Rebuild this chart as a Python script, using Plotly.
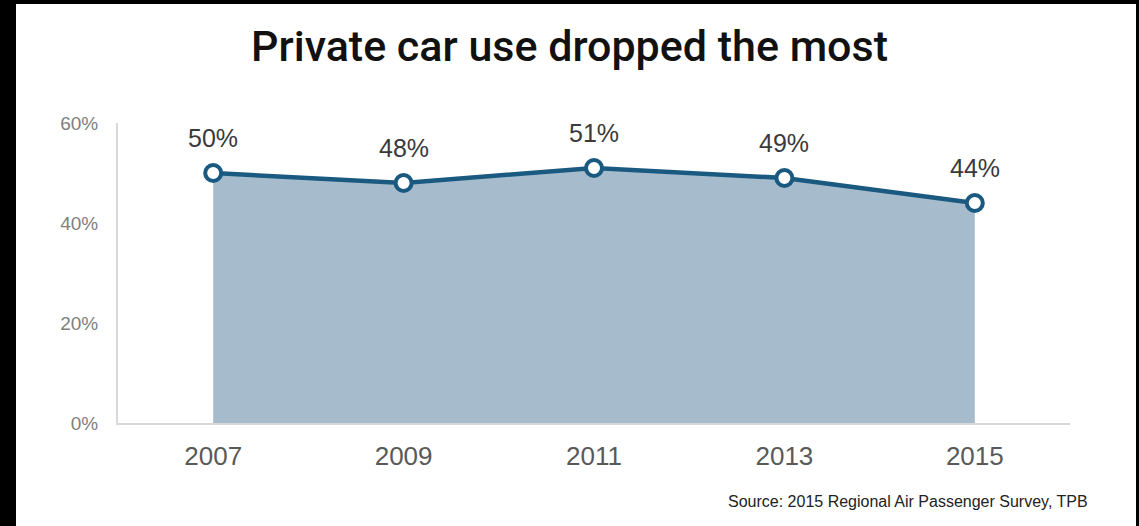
import plotly.graph_objects as go

years = [2007, 2009, 2011, 2013, 2015]
share = [50, 48, 51, 49, 44]
labels = [f"{v}%" for v in share]
y_ticks = [0, 20, 40, 60]
y_tick_text = ["0%", "20%", "40%", "60%"]

W, H = 1139, 526
ml, mr, mt, mb = 118, 69, 123, 103
pw, ph = W - ml - mr, H - mt - mb

def px_x(p):
    return (p - ml) / pw

def px_y(p):
    return (H - mb - p) / ph

fig = go.Figure()
fig.add_trace(go.Scatter(
    x=years, y=share, mode="lines+markers",
    fill="tozeroy", fillcolor="#a6bccd",
    line=dict(color="#1b5a80", width=4.5),
    marker=dict(size=16, color="white", line=dict(color="#1b5a80", width=4)),
    hoverinfo="skip", showlegend=False,
))

for x, y, t in zip(years, share, labels):
    fig.add_annotation(x=x, y=y, text=t, showarrow=False, yshift=35,
                       font=dict(family="Liberation Sans", size=25, color="#3a3a3a"))

fig.add_annotation(xref="paper", yref="paper", x=px_x(1090), y=px_y(502),
                   xanchor="right", yanchor="middle", showarrow=False,
                   text="Source: 2015 Regional Air Passenger Survey, TPB",
                   font=dict(family="Liberation Sans", size=16, color="#222222"))

# white card on black page
fig.add_shape(type="rect", xref="paper", yref="paper", layer="below",
              x0=px_x(16), x1=px_x(1136), y0=px_y(540), y1=px_y(4),
              fillcolor="white", line=dict(width=0))

fig.update_layout(
    width=W, height=H,
    paper_bgcolor="black", plot_bgcolor="white",
    margin=dict(l=ml, r=mr, t=mt, b=mb),
    title=dict(text="Private car use dropped the most", x=0.5, xref="container",
               y=1 - 46 / H, yref="container", yanchor="middle", xanchor="center",
               font=dict(family="Roboto", size=43, color="#111111", weight=500)),
    xaxis=dict(range=[2006, 2016], tickvals=years, ticktext=[str(y) for y in years],
               showgrid=False, zeroline=False, showline=True, linecolor="#d9d9d9",
               linewidth=2, ticks="", ticklabelstandoff=9,
               tickfont=dict(family="Liberation Sans", size=26, color="#595959")),
    yaxis=dict(range=[0, 60], tickvals=y_ticks, ticktext=y_tick_text,
               showgrid=False, zeroline=False, showline=True, linecolor="#d9d9d9",
               linewidth=2, ticks="", ticklabelstandoff=14,
               tickfont=dict(family="Liberation Sans", size=19, color="#808080")),
)

fig.write_html("out.html", config={"displayModeBar": False},
               post_script="document.body.style.margin='0';")
